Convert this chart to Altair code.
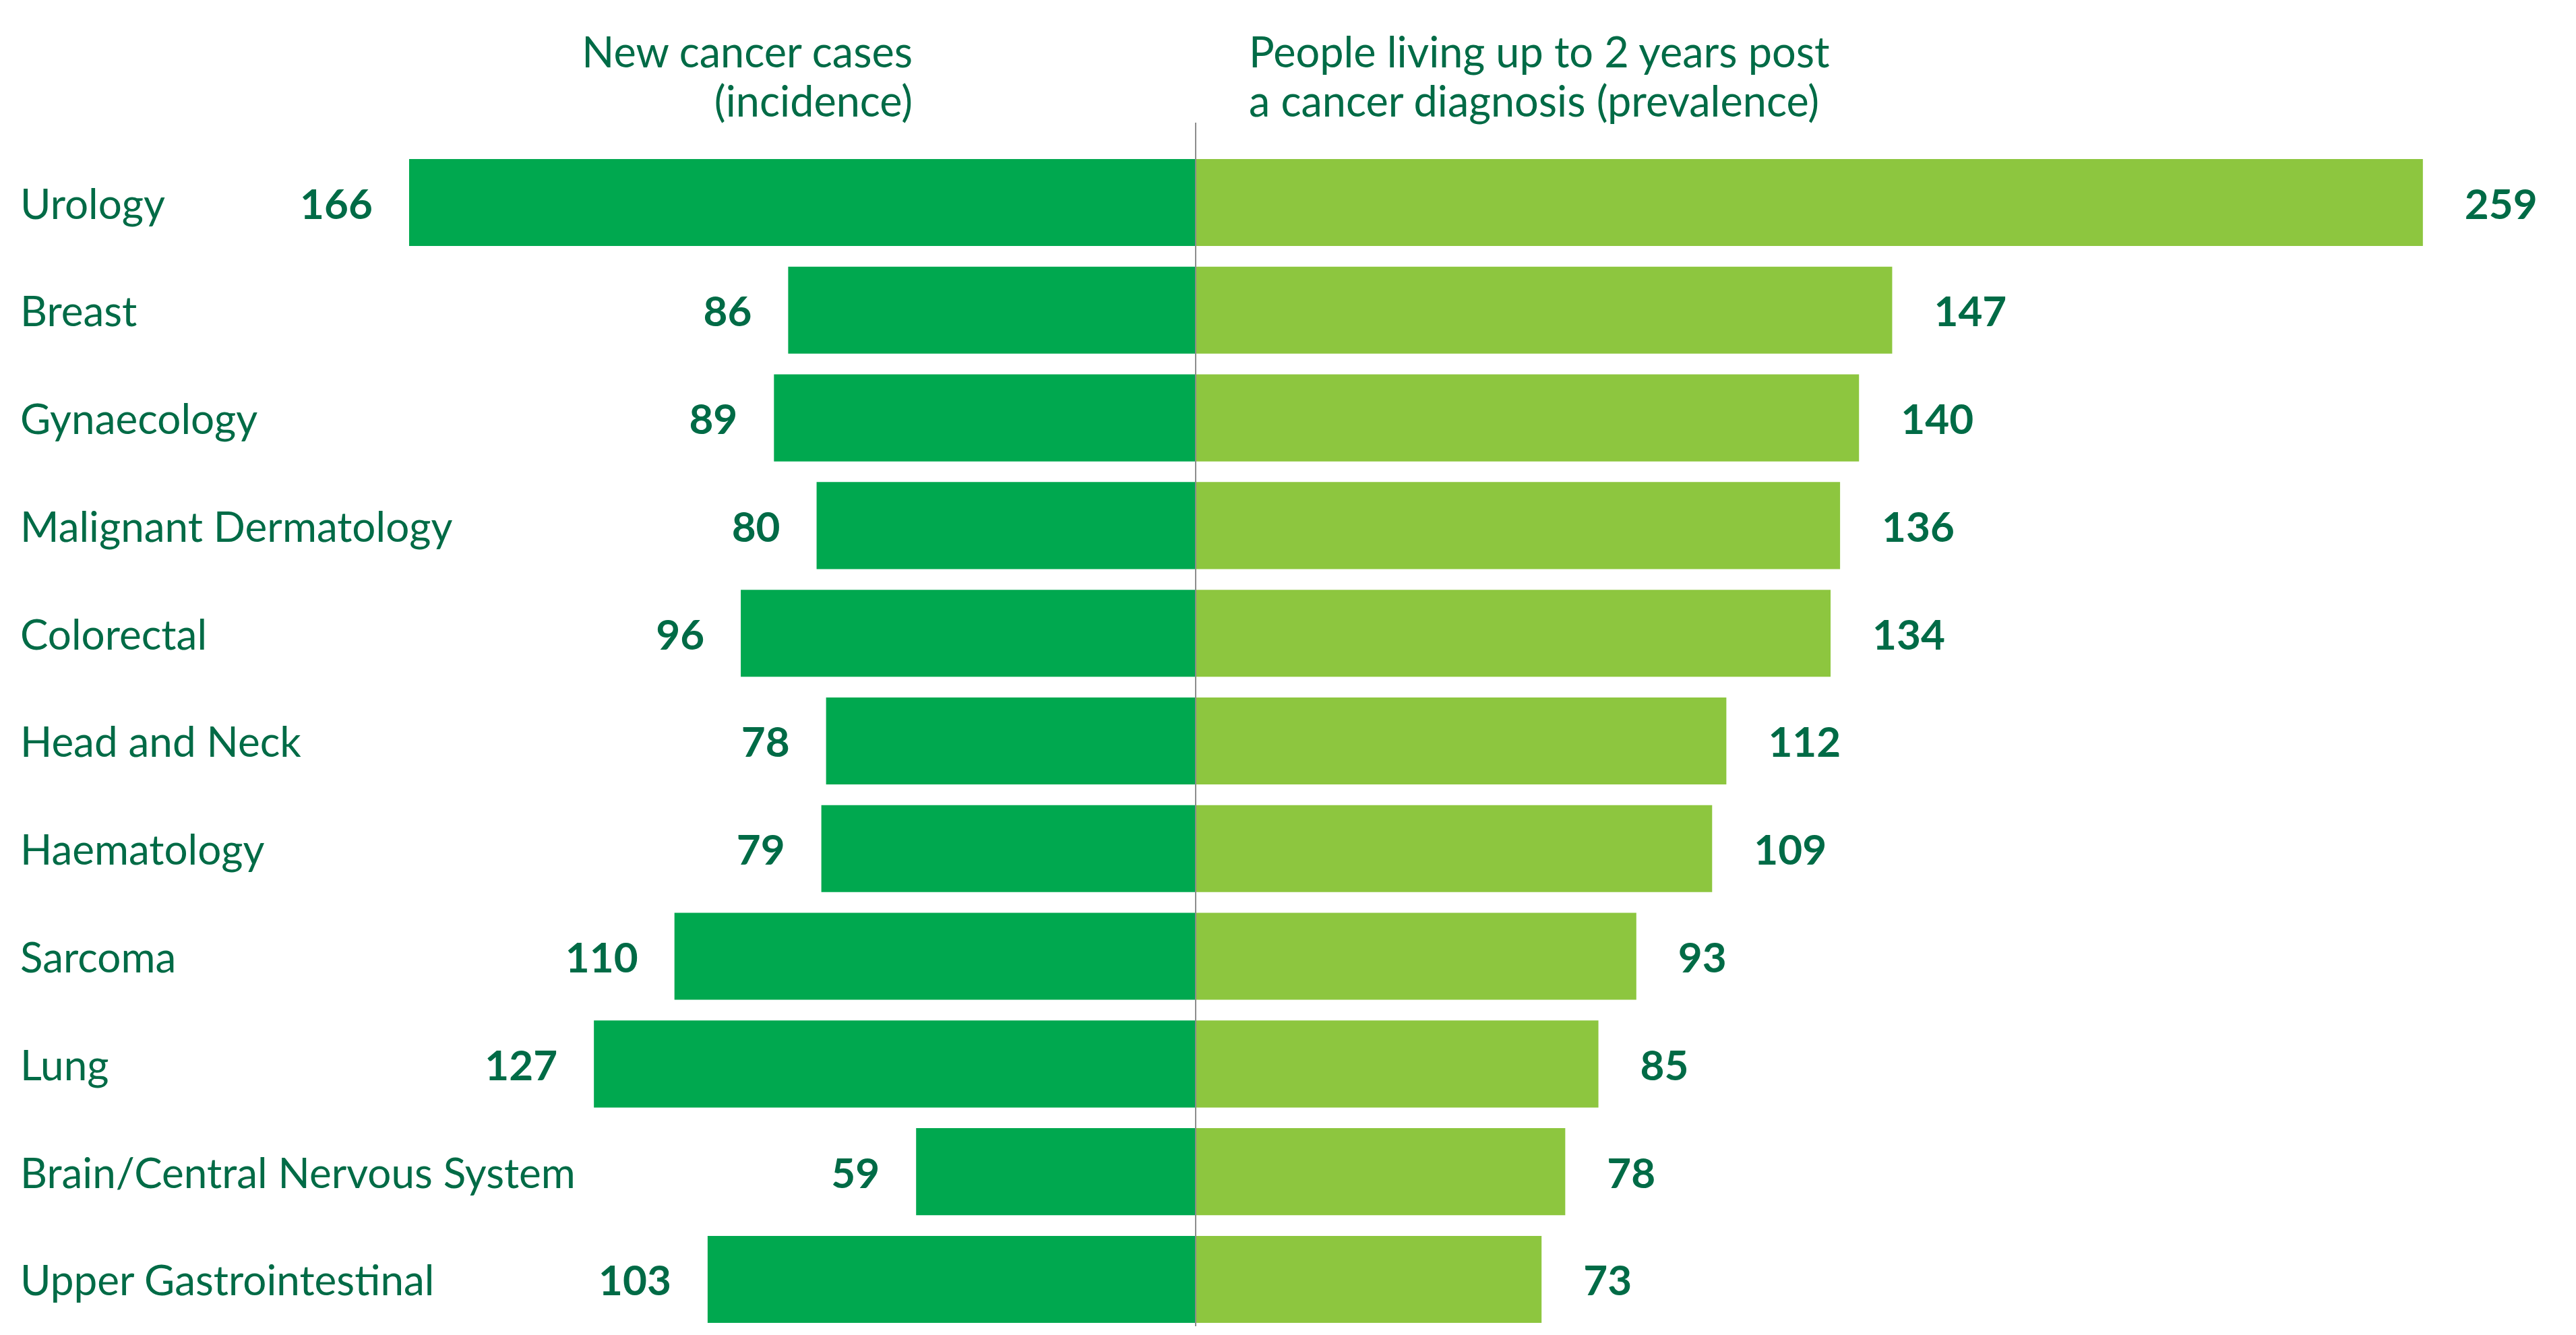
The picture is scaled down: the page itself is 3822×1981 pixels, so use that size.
import altair as alt
import pandas as pd

categories = ["Urology", "Breast", "Gynaecology", "Malignant Dermatology", "Colorectal",
              "Head and Neck", "Haematology", "Sarcoma", "Lung",
              "Brain/Central Nervous System", "Upper Gastrointestinal"]
incidence = [166, 86, 89, 80, 96, 78, 79, 110, 127, 59, 103]
prevalence = [259, 147, 140, 136, 134, 112, 109, 93, 85, 78, 73]
header_left = ["New cancer cases", "(incidence)"]
header_right = ["People living up to 2 years post", "a cancer diagnosis (prevalence)"]

DARK = "#00A84F"
LIGHT = "#8DC63F"
TEXT = "#006B46"
FONT = "Lato"

W, H = 3790, 1960
DOM = [-251.2, 287.9]

rows = []
for c, a, b in zip(categories, incidence, prevalence):
    rows.append({"category": c, "measure": "incidence", "value": a, "signed": -a})
    rows.append({"category": c, "measure": "prevalence", "value": b, "signed": b})
df = pd.DataFrame(rows)

cat_df = pd.DataFrame({"category": categories})
hdr_df = pd.DataFrame({
    "line": header_left + header_right,
    "side": ["l", "l", "r", "r"],
    "row": [0, 1, 0, 1],
    "zero": [0, 0, 0, 0],
})
zero_df = pd.DataFrame({"zero": [0]})

xs = alt.Scale(domain=DOM, nice=False, zero=True)
ys = alt.Scale(domain=categories, paddingInner=0.192, paddingOuter=0.729, align=0.9785)

x = alt.X("signed:Q", scale=xs, axis=None)
y = alt.Y("category:N", sort=categories, scale=ys, axis=None)

bars = alt.Chart(df).mark_bar().encode(
    x=x, y=y,
    color=alt.Color("measure:N", scale=alt.Scale(domain=["incidence", "prevalence"], range=[DARK, LIGHT]), legend=None),
)

left_lbl = alt.Chart(df).transform_filter(alt.datum.measure == "incidence").mark_text(
    align="right", baseline="middle", dx=-54, dy=5, font=FONT, fontSize=62, fontWeight="bold", color=TEXT
).encode(x=x, y=y, text="value:Q")

right_lbl = alt.Chart(df).transform_filter(alt.datum.measure == "prevalence").mark_text(
    align="left", baseline="middle", dx=62, dy=5, font=FONT, fontSize=62, fontWeight="bold", color=TEXT
).encode(x=x, y=y, text="value:Q")

cat_lbl = alt.Chart(cat_df).mark_text(
    align="left", baseline="middle", dy=5, font=FONT, fontSize=62, color=TEXT
).encode(x=alt.value(22), y=y, text="category:N")

rule = alt.Chart(zero_df).mark_rule(color="#8C8C8C", strokeWidth=2).encode(
    x=alt.X("zero:Q", scale=xs, axis=None),
    y=alt.value(174), y2=alt.value(H)
)

header_layers = []
for side, align, dx in [("l", "right", -420), ("r", "left", 79)]:
    for row in [0, 1]:
        header_layers.append(
            alt.Chart(hdr_df)
            .transform_filter((alt.datum.side == side) & (alt.datum.row == row))
            .mark_text(align=align, baseline="alphabetic", dx=dx, font=FONT, fontSize=63, color=TEXT)
            .encode(x=alt.X("zero:Q", scale=xs, axis=None), y=alt.value(92 + 73 * row), text="line:N")
        )

chart = alt.layer(bars, rule, left_lbl, right_lbl, cat_lbl, *header_layers).properties(
    width=W, height=H, padding=0
).configure_view(stroke=None)

chart.save("out.html", embed_options={"renderer": "svg", "actions": False})
